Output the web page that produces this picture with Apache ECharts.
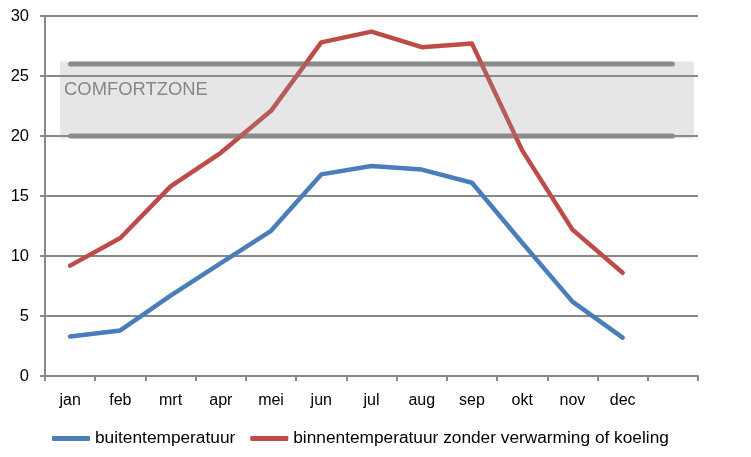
<!DOCTYPE html>
<html>
<head>
<meta charset="utf-8">
<script src="https://cdn.jsdelivr.net/npm/echarts@6/dist/echarts.min.js"></script>
<style>
html,body{margin:0;padding:0;background:#fff;}
#chart{width:751px;height:457px;}
</style>
</head>
<body>
<div id="chart"></div>
<script>
const months = ['jan','feb','mrt','apr','mei','jun','jul','aug','sep','okt','nov','dec',''];
const buiten = [3.3, 3.8, 6.7, 9.4, 12.1, 16.8, 17.5, 17.2, 16.1, 11.1, 6.2, 3.2];
const binnen = [9.2, 11.5, 15.8, 18.6, 22.1, 27.8, 28.7, 27.4, 27.7, 18.8, 12.2, 8.6];
const seriesNames = ['buitentemperatuur', 'binnentemperatuur zonder verwarming of koeling'];
const comfortLabel = 'COMFORTZONE';
const comfortLow = 20;
const comfortHigh = 26;
const bandLow = 19.8;
const bandHigh = 26.2;
const bandX = [0.3, 12.92];
const comfortLineX = [0.51, 12.49];
const yTicks = [0, 30, 5];

const grey = '#888888';
const font = 'Liberation Sans, Arial, sans-serif';
const chart = echarts.init(document.getElementById('chart'));
chart.setOption({
  animation: false,
  textStyle: { fontFamily: font },
  grid: { left: 45, right: 53, top: 16, bottom: 81, containLabel: false },
  legend: {
    left: 47, bottom: 5,
    itemWidth: 38, itemHeight: 5, itemGap: 15,
    icon: 'roundRect',
    data: seriesNames,
    textStyle: { fontSize: 17.3, color: '#000', fontFamily: font }
  },
  xAxis: [{
    type: 'category',
    data: months,
    boundaryGap: true,
    axisLine: { lineStyle: { color: grey, width: 2 } },
    axisTick: { show: true, length: 5, lineStyle: { color: grey, width: 2 } },
    axisLabel: { color: '#000', fontSize: 16, margin: 17, interval: 0 },
    splitLine: { show: false }
  }, {
    type: 'value', min: 0, max: 13, show: false
  }],
  yAxis: {
    type: 'value', min: yTicks[0], max: yTicks[1], interval: yTicks[2],
    axisLine: { show: true, lineStyle: { color: grey, width: 2 } },
    axisTick: { show: true, length: 5, lineStyle: { color: grey, width: 2 } },
    axisLabel: { color: '#000', fontSize: 16.5, margin: 16 },
    splitLine: { show: true, lineStyle: { color: grey, width: 2 } }
  },
  series: [
    {
      name: 'comfortHigh', type: 'line', xAxisIndex: 1, symbol: 'none', silent: true, z: 1,
      lineStyle: { color: grey, width: 5, cap: 'round' },
      data: [[comfortLineX[0], comfortHigh], [comfortLineX[1], comfortHigh]]
    },
    {
      name: 'comfortLow', type: 'line', xAxisIndex: 1, symbol: 'none', silent: true, z: 1,
      lineStyle: { color: grey, width: 5, cap: 'round' },
      data: [[comfortLineX[0], comfortLow], [comfortLineX[1], comfortLow]]
    },
    {
      name: seriesNames[0], type: 'line', symbol: 'none', z: 2,
      color: '#4a7ebb',
      lineStyle: { color: '#4a7ebb', width: 4.5, cap: 'round', join: 'round' },
      data: buiten
    },
    {
      name: seriesNames[1], type: 'line', symbol: 'none', z: 2,
      color: '#be4b48',
      lineStyle: { color: '#be4b48', width: 4.5, cap: 'round', join: 'round' },
      data: binnen
    },
    {
      name: 'band', type: 'custom', xAxisIndex: 1, silent: true, z: 5,
      data: [[bandX[0], bandHigh, bandX[1], bandLow]],
      renderItem: function (params, api) {
        const p1 = api.coord([api.value(0), api.value(1)]);
        const p2 = api.coord([api.value(2), api.value(3)]);
        return {
          type: 'group',
          children: [{
            type: 'rect',
            shape: { x: p1[0], y: p1[1], width: p2[0] - p1[0], height: p2[1] - p1[1] },
            style: { fill: 'rgba(150,150,150,0.24)' }
          }, {
            type: 'text',
            x: p1[0] + 4, y: p1[1] + 19,
            style: {
              text: comfortLabel, fill: '#888888', fontSize: 18.4, fontFamily: font,
              align: 'left', verticalAlign: 'top'
            }
          }]
        };
      }
    }
  ]
});
</script>
</body>
</html>
